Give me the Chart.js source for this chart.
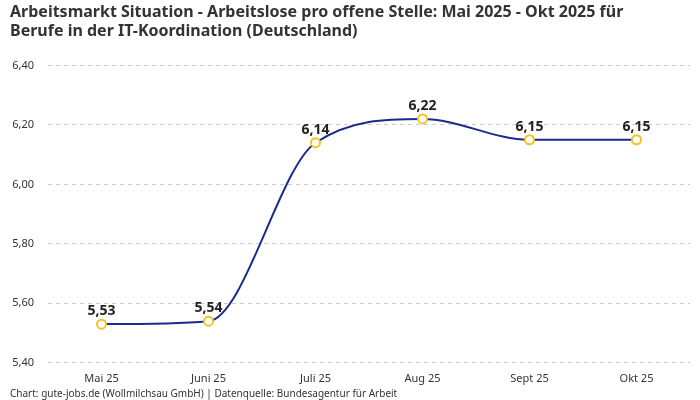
<!DOCTYPE html>
<html>
<head>
<meta charset="utf-8">
<script src="https://cdn.jsdelivr.net/npm/chart.js@4"></script>
<style>
  html, body { margin: 0; padding: 0; background: #fff; }
  #wrap { width: 700px; height: 400px; }
</style>
</head>
<body>
<div id="wrap"><canvas id="myChart"></canvas></div>
<script>
const ctx = document.getElementById('myChart');

const monate = ["Mai 25", "Juni 25", "Juli 25", "Aug 25", "Sept 25", "Okt 25"];
const werte = [5.53, 5.54, 6.14, 6.22, 6.15, 6.15];

const fmt = v => v.toFixed(2).replace('.', ',');

// kleine Beschriftung über den Punkten
const wertLabels = {
  id: 'wertLabels',
  afterDatasetsDraw(chart) {
    const c = chart.ctx;
    const meta = chart.getDatasetMeta(0);
    c.save();
    c.font = 'bold 14px "Noto Sans"';
    c.fillStyle = '#222';
    c.textAlign = 'center';
    c.textBaseline = 'bottom';
    meta.data.forEach((pt, i) => {
      c.fillText(fmt(werte[i]), pt.x, pt.y - 6);
    });
    c.restore();
  }
};

new Chart(ctx, {
  type: 'line',
  data: {
    labels: monate,
    datasets: [{
      label: 'Arbeitslose pro offene Stelle',
      data: werte,
      borderColor: '#1b2a8c',
      borderWidth: 2,
      cubicInterpolationMode: 'monotone',
      pointBackgroundColor: '#fff',
      pointBorderColor: '#f7c21e',
      pointBorderWidth: 2,
      pointRadius: 4.5
    }]
  },
  plugins: [wertLabels],
  options: {
    responsive: true,
    maintainAspectRatio: false,
    animation: false,
    layout: { padding: { left: 10, right: 10, top: 3, bottom: 0 } },
    plugins: {
      legend: { display: false },
      tooltip: { enabled: false },
      title: {
        display: true,
        align: 'start',
        text: ["Arbeitsmarkt Situation - Arbeitslose pro offene Stelle: Mai 2025 - Okt 2025 für",
               "Berufe in der IT-Koordination (Deutschland)"],
        color: '#333',
        font: { family: 'Noto Sans', size: 16, weight: 'bold', lineHeight: 1.2 },
        padding: { top: 0, bottom: 24 }
      },
      subtitle: {
        display: true,
        position: 'bottom',
        align: 'start',
        text: 'Chart: gute-jobs.de (Wollmilchsau GmbH) | Datenquelle: Bundesagentur für Arbeit',
        color: '#333',
        font: { family: 'Noto Sans', size: 10 },
        padding: { top: 2, bottom: 0 }
      }
    },
    scales: {
      x: {
        offset: true,
        grid: { display: false },
        border: { display: false },
        ticks: { padding: 1, color: '#333', font: { family: 'Noto Sans', size: 11 } }
      },
      y: {
        min: 5.4,
        max: 6.4,
        afterFit: s => { s.width = 38; },
        border: { display: false, dash: [4, 4] },
        grid: { color: '#ccc', drawTicks: false },
        ticks: {
          stepSize: 0.2,
          padding: 14,
          color: '#333',
          font: { family: 'Noto Sans', size: 11 },
          callback: v => fmt(v)
        }
      }
    }
  }
});
</script>
</body>
</html>
